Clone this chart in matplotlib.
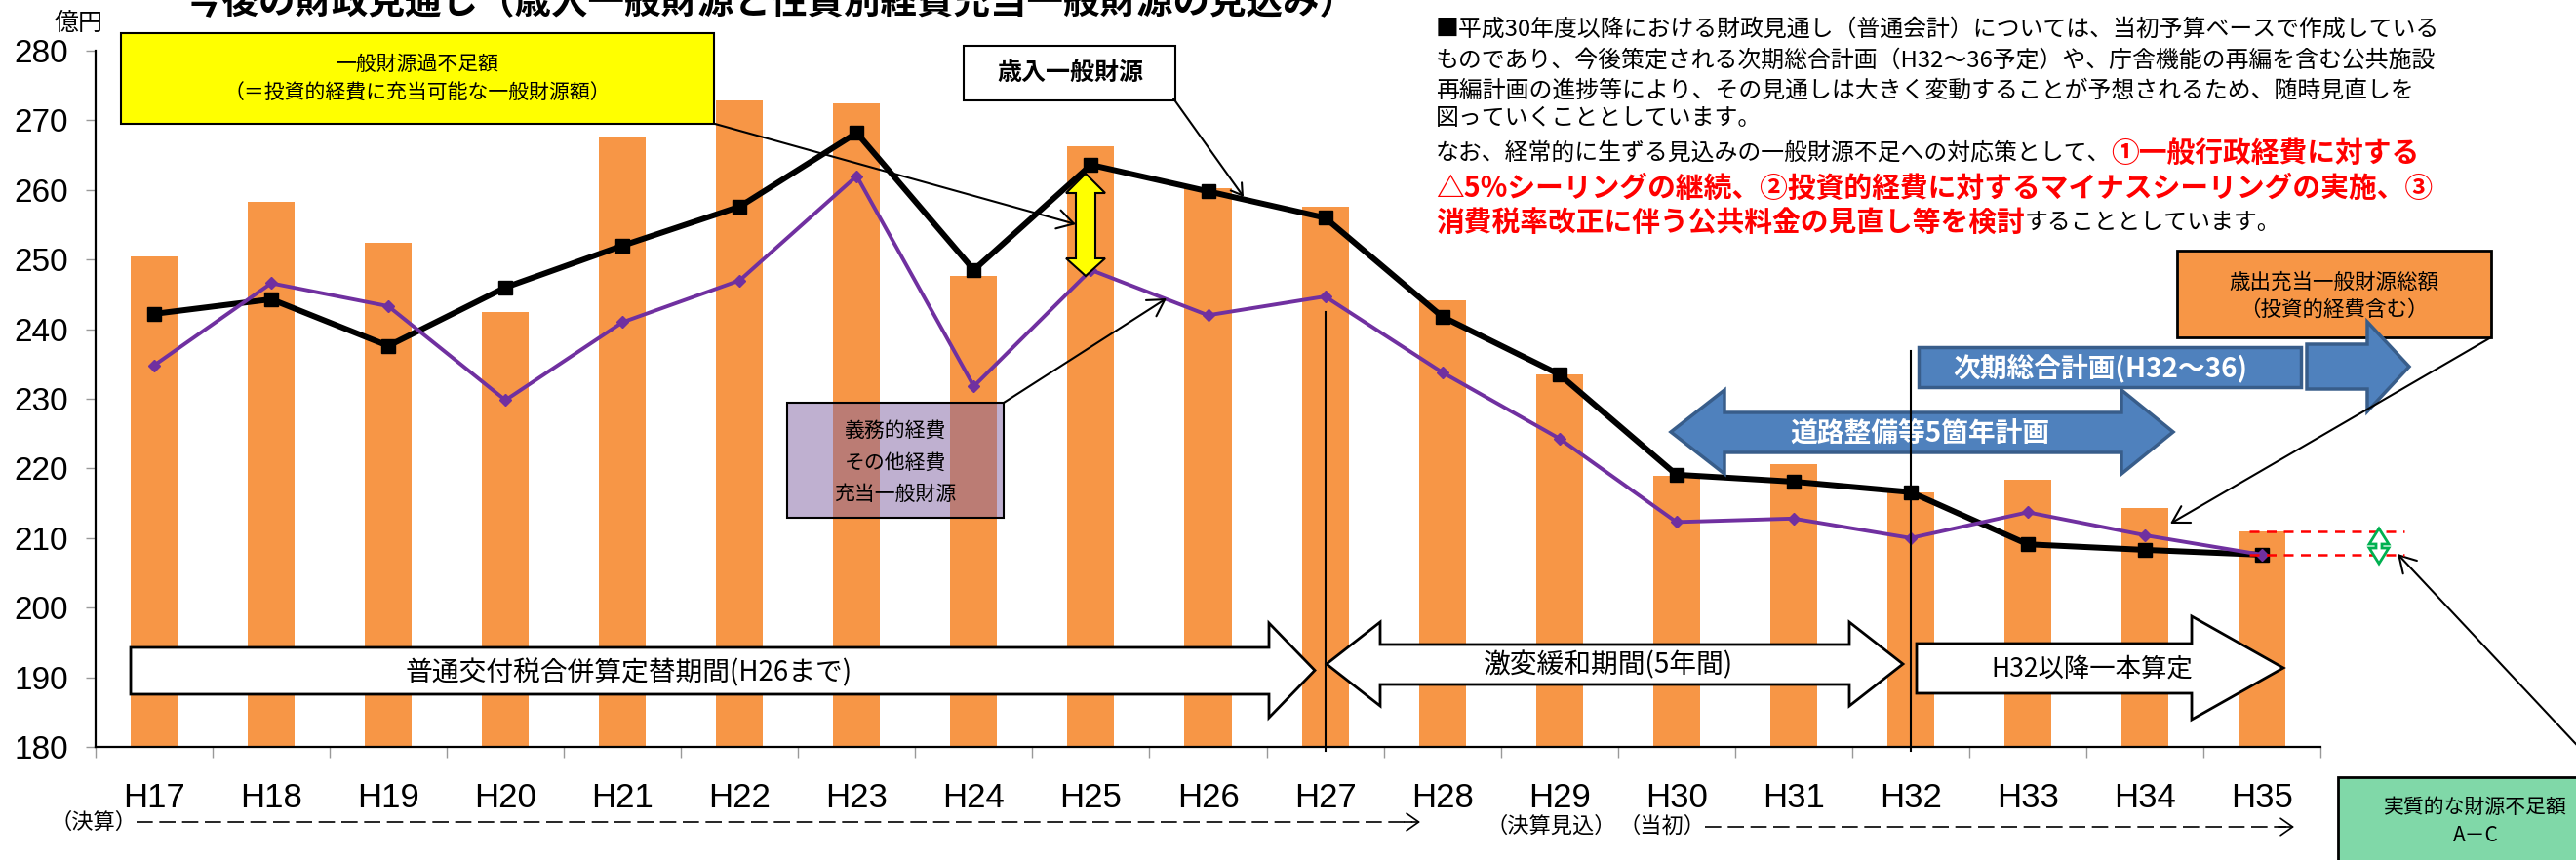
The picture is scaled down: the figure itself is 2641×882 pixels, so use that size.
import numpy as np
import matplotlib
matplotlib.use('Agg')
import matplotlib.pyplot as plt
from matplotlib.patches import Rectangle, Polygon, FancyArrowPatch
from matplotlib.lines import Line2D

plt.rcParams['font.family'] = ['Noto Sans CJK JP', 'DejaVu Sans']

# ---------------- data ----------------
years = ['H17', 'H18', 'H19', 'H20', 'H21', 'H22', 'H23', 'H24', 'H25', 'H26',
         'H27', 'H28', 'H29', 'H30', 'H31', 'H32', 'H33', 'H34', 'H35']
expenditure = [250.5, 258.3, 252.4, 242.5, 267.5, 272.9, 272.5, 247.7, 266.3, 260.2,
               257.6, 244.2, 233.5, 218.9, 220.6, 216.6, 218.4, 214.3, 210.9]
revenue = [242.2, 244.3, 237.6, 246.0, 252.0, 257.6, 268.2, 248.5, 263.6, 259.8,
           256.0, 241.8, 233.5, 219.1, 218.1, 216.6, 209.1, 208.3, 207.6]
mandatory = [234.8, 246.6, 243.3, 229.8, 241.0, 247.0, 262.0, 231.8, 248.5, 242.0,
             244.7, 233.8, 224.3, 212.3, 212.8, 210.0, 213.7, 210.4, 207.6]
yticks = list(range(180, 281, 10))

W, H = 2641, 882
fig = plt.figure(figsize=(W / 100, H / 100), dpi=100)


def fx(x):
    return x / W


def fy(y):
    return 1 - y / H


def FP(x, y):
    return (fx(x), fy(y))


L, R, T, B = 98, 2379, 52, 766
ax = fig.add_axes([fx(L), fy(B), (R - L) / W, (B - T) / H])
x = np.arange(len(years))
ax.bar(x, expenditure, width=0.4, color='#F79646', zorder=1)
ax.plot(x, revenue, color='black', lw=4.3, marker='s', ms=9.5, zorder=3)
ax.plot(x, mandatory, color='#7030A0', lw=2.8, marker='D', ms=6.5, zorder=4)
ax.set_xlim(-0.5, len(years) - 0.5)
ax.set_ylim(180, 280)
ax.set_yticks(yticks)
ax.set_xticks(x, years)
ax.set_xticks(np.arange(-0.5, len(years), 1), minor=True)
for s in ['top', 'right']:
    ax.spines[s].set_visible(False)
for s in ['left', 'bottom']:
    ax.spines[s].set_linewidth(1.6)
    ax.spines[s].set_color('black')
ax.tick_params(axis='y', which='major', length=7, color='#999999', width=1,
               labelsize=24, pad=13, labelfontfamily='Liberation Sans')
ax.tick_params(axis='x', which='major', length=0, labelsize=25, pad=26,
               labelfontfamily='Liberation Sans')
ax.tick_params(axis='x', which='minor', length=8, color='#999999', width=1)
ax.patch.set_alpha(0)

renderer = fig.canvas.get_renderer()

# ---------------- title & unit ----------------
fig.text(fx(790), fy(14), '今後の財政見通し（歳入一般財源と性質別経費充当一般財源の見込み）',
         fontsize=27, weight='bold', ha='center', va='baseline')
fig.text(fx(81), fy(24), '億円', fontsize=18, ha='center', va='center')


def rect(x0, y0, x1, y1, **kw):
    p = Rectangle((fx(x0), fy(y1)), (x1 - x0) / W, (y1 - y0) / H,
                  transform=fig.transFigure, **kw)
    fig.add_artist(p)
    return p


def poly(pts, **kw):
    p = Polygon([FP(a, b) for a, b in pts], closed=True, transform=fig.transFigure, **kw)
    fig.add_artist(p)
    return p


def arrow(p0, p1, lw=1.5, color='black', style='->,head_length=0.6,head_width=0.35', ms=20, z=6):
    a = FancyArrowPatch(FP(*p0), FP(*p1), transform=fig.transFigure, arrowstyle=style,
                        mutation_scale=ms, lw=lw, color=color, shrinkA=0, shrinkB=0, zorder=z)
    fig.add_artist(a)


def right_arrow(x0, xh, xt, bt, bb, ht, hb):
    ym = (ht + hb) / 2
    return [(x0, bt), (xh, bt), (xh, ht), (xt, ym), (xh, hb), (xh, bb), (x0, bb)]


def double_arrow(xl, xhl, xhr, xr, bt, bb, ht, hb):
    ym = (ht + hb) / 2
    return [(xl, ym), (xhl, ht), (xhl, bt), (xhr, bt), (xhr, ht), (xr, ym),
            (xhr, hb), (xhr, bb), (xhl, bb), (xhl, hb)]


# ---------------- yellow box ----------------
rect(124, 34, 732, 127, facecolor='#FFFF00', edgecolor='black', lw=1.5)
fig.text(fx(428), fy(66), '一般財源過不足額', fontsize=15, ha='center', va='center')
fig.text(fx(428), fy(96), '（＝投資的経費に充当可能な一般財源額）', fontsize=15, ha='center', va='center')
arrow((733, 127), (1103, 230))

# yellow double arrow at H25
cx = 1113
poly([(cx, 178), (cx + 20, 198), (cx + 10, 198), (cx + 10, 265), (cx + 20, 265), (cx, 283),
      (cx - 20, 265), (cx - 10, 265), (cx - 10, 198), (cx - 20, 198)],
     facecolor='#FFFF00', edgecolor='black', lw=1.5, zorder=5)

# ---------------- 歳入一般財源 box ----------------
rect(988, 47, 1205, 103, facecolor='white', edgecolor='black', lw=1.5)
fig.text(fx(1097), fy(75), '歳入一般財源', fontsize=18, weight='bold', ha='center', va='center')
arrow((1203, 101), (1275, 202), style='->,head_length=0.4,head_width=0.25')

# ---------------- 義務的経費 box ----------------
rect(807, 413, 1029, 531, facecolor=(0.50, 0.39, 0.635, 0.5), edgecolor='black', lw=1.5)
for yy, t in zip([442, 475, 507], ['義務的経費', 'その他経費', '充当一般財源']):
    fig.text(fx(918), fy(yy), t, fontsize=15, ha='center', va='center')
arrow((1029, 413), (1196, 306))

# ---------------- explanatory text ----------------
BLACK_FS, RED_FS = 17.2, 20.7


def adv(text, size, weight):
    t1 = fig.text(0, 0, text + '一', fontsize=size, weight=weight)
    t2 = fig.text(0, 0, '一', fontsize=size, weight=weight)
    w = t1.get_window_extent(renderer).width - t2.get_window_extent(renderer).width
    t1.remove()
    t2.remove()
    return w


def seg_line(y, parts, x0=1472):
    xx = x0
    for text, color, size, weight in parts:
        fig.text(fx(xx), fy(y), text, color=color, fontsize=size, weight=weight,
                 ha='left', va='center')
        xx += adv(text, size, weight)


K, RD = 'black', '#FF0000'
seg_line(30, [('■平成30年度以降における財政見通し（普通会計）については、当初予算ベースで作成している', K, BLACK_FS, 'normal')])
seg_line(62, [('ものであり、今後策定される次期総合計画（H32～36予定）や、庁舎機能の再編を含む公共施設', K, BLACK_FS, 'normal')])
seg_line(93, [('再編計画の進捗等により、その見通しは大きく変動することが予想されるため、随時見直しを', K, BLACK_FS, 'normal')])
seg_line(121, [('図っていくこととしています。', K, BLACK_FS, 'normal')])
seg_line(157, [('なお、経常的に生ずる見込みの一般財源不足への対応策として、', K, BLACK_FS, 'normal'),
               ('①一般行政経費に対する', RD, RED_FS, 'bold')])
seg_line(193, [('△5%シーリングの継続、②投資的経費に対するマイナスシーリングの実施、③', RD, RED_FS, 'bold')])
seg_line(228, [('消費税率改正に伴う公共料金の見直し等を検討', RD, RED_FS, 'bold'),
               ('することとしています。', K, BLACK_FS, 'normal')])

# ---------------- orange box ----------------
rect(2232, 257, 2554, 346, facecolor='#F79646', edgecolor='black', lw=2)
fig.text(fx(2393), fy(290), '歳出充当一般財源総額', fontsize=15.5, ha='center', va='center')
fig.text(fx(2393), fy(318), '（投資的経費含む）', fontsize=15.5, ha='center', va='center')
arrow((2554, 346), (2225, 537))

# ---------------- blue arrows ----------------
BLUE, BLUE_E = '#4F81BD', '#385D8A'
rect(1967, 356, 2359, 397, facecolor=BLUE, edgecolor=BLUE_E, lw=2.5)
fig.text(fx(2153), fy(378), '次期総合計画(H32～36)', fontsize=20, weight='bold',
         color='white', ha='center', va='center')
poly(right_arrow(2365, 2427, 2470, 353, 399, 330, 422), facecolor=BLUE, edgecolor=BLUE_E, lw=2.5)
poly(double_arrow(1713, 1768, 2175, 2228, 423, 464, 400, 486), facecolor=BLUE, edgecolor=BLUE_E, lw=2.5)
fig.text(fx(1968), fy(445), '道路整備等5箇年計画', fontsize=20, weight='bold',
         color='white', ha='center', va='center')

# ---------------- white period arrows ----------------
poly(right_arrow(134, 1301, 1348, 664, 712, 639, 736), facecolor='white', edgecolor='black', lw=2)
fig.text(fx(645), fy(690), '普通交付税合併算定替期間(H26まで)', fontsize=20, ha='center', va='center')
poly(double_arrow(1360, 1415, 1896, 1951, 661, 702, 638, 724), facecolor='white', edgecolor='black', lw=2)
fig.text(fx(1649), fy(682), '激変緩和期間(5年間)', fontsize=20, ha='center', va='center')
poly(right_arrow(1965, 2247, 2341, 660, 711, 632, 738), facecolor='white', edgecolor='black', lw=2)
fig.text(fx(2145), fy(686), 'H32以降一本算定', fontsize=19, ha='center', va='center')

# vertical separators (data coordinates, drawn above the arrows)
for xi, ytop in [(10, 242.5), (15, 236.9)]:
    fig.add_artist(Line2D([xi, xi], [ytop, 179.4], transform=ax.transData,
                          color='black', lw=1.5, zorder=7))

# ---------------- H35 gap markers ----------------
for yv in [expenditure[-1], revenue[-1]]:
    fig.add_artist(Line2D([17.89, 19.22], [yv, yv], transform=ax.transData,
                          color='#FF0000', lw=1.8, dashes=[4, 3], zorder=7))
gx = 2439
poly([(gx, 542), (gx + 10, 558), (gx + 3, 558), (gx + 3, 562), (gx + 10, 562), (gx, 578),
      (gx - 10, 562), (gx - 3, 562), (gx - 3, 558), (gx - 10, 558)],
     facecolor='white', edgecolor='#00B050', lw=2, zorder=8)

# ---------------- green box ----------------
rect(2397, 797, 2700, 930, facecolor='#80D8A8', edgecolor='black', lw=2)
fig.text(fx(2538), fy(828), '実質的な財源不足額', fontsize=15, ha='center', va='center')
fig.text(fx(2538), fy(857), 'A－C', fontsize=15, ha='center', va='center')
arrow((2700, 826), (2458, 568))

# ---------------- bottom period labels ----------------
fig.text(fx(96), fy(843), '（決算）', fontsize=16, ha='center', va='center')
fig.add_artist(Line2D([fx(140), fx(1448)], [fy(843), fy(843)], transform=fig.transFigure,
                      color='black', lw=1.2, dashes=[10, 4]))
arrow((1440, 843), (1456, 843), lw=1.2, style='->,head_length=0.5,head_width=0.35', ms=18)
fig.text(fx(1590), fy(847), '（決算見込）', fontsize=16, ha='center', va='center')
fig.text(fx(1704), fy(847), '（当初）', fontsize=16, ha='center', va='center')
fig.add_artist(Line2D([fx(1748), fx(2344)], [fy(848), fy(848)], transform=fig.transFigure,
                      color='black', lw=1.2, dashes=[10, 4]))
arrow((2336, 848), (2352, 848), lw=1.2, style='->,head_length=0.5,head_width=0.35', ms=18)

fig.savefig('out.png', dpi=100)
